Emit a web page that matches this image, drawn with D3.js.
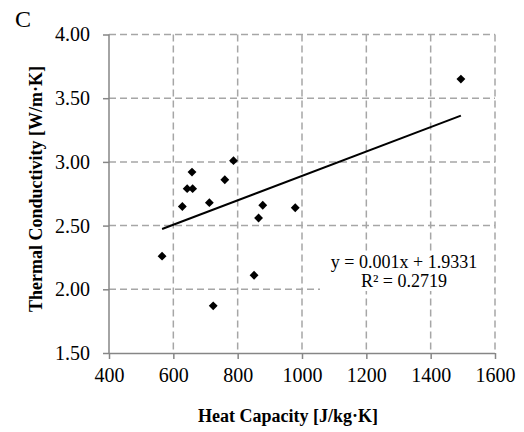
<!DOCTYPE html>
<html><head><meta charset="utf-8">
<script src="https://cdnjs.cloudflare.com/ajax/libs/d3/7.8.5/d3.min.js"></script>
<style>body{margin:0;background:#fff}svg{display:block}text{font-family:"Liberation Serif","Times New Roman",serif}</style>
</head><body><svg id="c" width="524" height="432"></svg>
<script>
const heatCapacity = [565, 628, 643, 660, 658, 712, 760, 787, 878, 865, 979, 851, 724, 1494];
const conductivity = [2.26, 2.65, 2.79, 2.79, 2.92, 2.68, 2.86, 3.01, 2.66, 2.56, 2.64, 2.11, 1.87, 3.65];
const xTicks = [400, 600, 800, 1000, 1200, 1400, 1600];
const yTicks = [1.5, 2.0, 2.5, 3.0, 3.5, 4.0];
const trendSlope = [0.000958];
const trendIntercept = [1.932];
const equationLines = ["y = 0.001x + 1.9331", "R\u00B2 = 0.2719"];

const svg = d3.select("#c");
const x = d3.scaleLinear().domain([400, 1600]).range([109, 495]);
const y = d3.scaleLinear().domain([1.5, 4.0]).range([353, 34.5]);
const grid = "#a6a6a6", axisC = "#868686";

// gridlines
svg.append("g").selectAll("line").data(yTicks.slice(1)).join("line")
  .attr("x1", x(400)).attr("x2", x(1600)).attr("y1", d => y(d)).attr("y2", d => y(d))
  .attr("stroke", grid).attr("stroke-width", 1.5).attr("stroke-dasharray", "7,4");
svg.append("g").selectAll("line").data(xTicks.slice(1)).join("line")
  .attr("x1", d => x(d)).attr("x2", d => x(d)).attr("y1", y(4.0)).attr("y2", y(1.5))
  .attr("stroke", grid).attr("stroke-width", 1.5).attr("stroke-dasharray", "7,4");

// axes
const xAxis = svg.append("g").attr("transform", `translate(0,${y(1.5)})`)
  .call(d3.axisBottom(x).tickValues(xTicks).tickFormat(d3.format("d")).tickSize(6).tickPadding(9));
const yAxis = svg.append("g").attr("transform", `translate(${x(400)},0)`)
  .call(d3.axisLeft(y).tickValues(yTicks).tickFormat(d3.format(".2f")).tickSize(6).tickPadding(13));
[xAxis, yAxis].forEach(g => {
  g.attr("font-family", "Liberation Serif");
  g.select(".domain").attr("stroke", axisC).attr("stroke-width", 1.5);
  g.selectAll(".tick line").attr("stroke", axisC).attr("stroke-width", 1.5);
  g.selectAll(".tick text").attr("font-family", "Liberation Serif").attr("font-size", 20).attr("fill", "#000");
});
xAxis.select(".domain").attr("d", `M${x(400)},0.5H${x(1600)}`);
yAxis.select(".domain").attr("d", `M0,${y(1.5)}V${y(4.0)}`);
xAxis.selectAll(".tick text").attr("dy", "0.71em");

// trendline
const xs = d3.extent(heatCapacity);
svg.append("line")
  .attr("x1", x(xs[0])).attr("y1", y(trendSlope[0] * xs[0] + trendIntercept[0]))
  .attr("x2", x(xs[1])).attr("y2", y(trendSlope[0] * xs[1] + trendIntercept[0]))
  .attr("stroke", "#000").attr("stroke-width", 2);

// points
const sym = d3.symbol().type(d3.symbolDiamond2).size(50);
svg.append("g").selectAll("path").data(heatCapacity).join("path")
  .attr("transform", (d, i) => `translate(${x(d)},${y(conductivity[i])})`)
  .attr("d", sym).attr("fill", "#000");

// equation box
svg.append("rect").attr("x", 320).attr("y", 252).attr("width", 170).attr("height", 39).attr("fill", "#fff");
svg.append("g").selectAll("text").data(equationLines).join("text")
  .attr("x", 404).attr("y", (d, i) => 268 + i * 19).attr("text-anchor", "middle")
  .attr("font-size", 18).text(d => d);

// titles
svg.append("text").attr("x", 288).attr("y", 422).attr("text-anchor", "middle")
  .attr("font-size", 18).attr("font-weight", "bold").text("Heat Capacity [J/kg\u00B7K]");
svg.append("text").attr("transform", "translate(42,189) rotate(-90)").attr("text-anchor", "middle")
  .attr("font-size", 18).attr("font-weight", "bold").text("Thermal Conductivity [W/m\u00B7K]");
svg.append("text").attr("x", 15).attr("y", 27).attr("font-size", 24).text("C");
</script></body></html>
